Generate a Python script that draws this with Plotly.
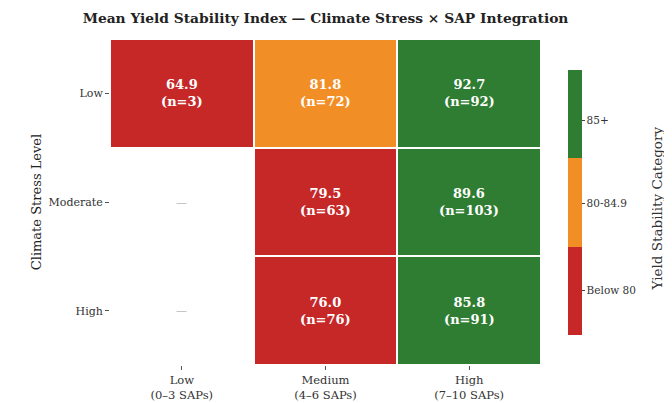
import plotly.graph_objects as go

stress_levels = ["Low", "Moderate", "High"]
sap_levels = ["Low<br>(0–3 SAPs)", "Medium<br>(4–6 SAPs)", "High<br>(7–10 SAPs)"]
mean_ysi = [
    [64.9, 81.8, 92.7],
    [None, 79.5, 89.6],
    [None, 76.0, 85.8],
]
counts = [
    [3, 72, 92],
    [None, 63, 103],
    [None, 76, 91],
]
cat_labels = ["Below 80", "80-84.9", "85+"]
cat_tick_positions = [0, 0.98, 1.92]
cat_colors = ["#c62828", "#f28e26", "#2e7d32"]


def category(v):
    if v is None:
        return None
    if v < 80:
        return 0
    if v < 85:
        return 1
    return 2


z = [[category(v) for v in row] for row in mean_ysi]
text = []
for row_m, row_n in zip(mean_ysi, counts):
    text.append([
        "—" if m is None else f"<b>{m:.1f}<br>(n={n})</b>"
        for m, n in zip(row_m, row_n)
    ])

colorscale = [
    [0.0, cat_colors[0]], [1/3, cat_colors[0]],
    [1/3, cat_colors[1]], [2/3, cat_colors[1]],
    [2/3, cat_colors[2]], [1.0, cat_colors[2]],
]

fig = go.Figure()
fig.add_trace(go.Heatmap(
    z=z, x=sap_levels, y=stress_levels,
    colorscale=colorscale, zmin=-0.5, zmax=2.5,
    xgap=2, ygap=2,
    hoverinfo="skip",
    colorbar=dict(
        tickvals=cat_tick_positions, ticktext=cat_labels,
        ticks="outside", ticklen=3, tickcolor="#444",
        thickness=14, lenmode="pixels", len=285,
        x=1.039, xanchor="left", y=0.5, yanchor="middle",
        outlinewidth=0,
        tickfont=dict(family="DejaVu Serif", size=10.5, color="#333"),
    ),
))

for i, row in enumerate(text):
    for j, t in enumerate(row):
        is_missing = mean_ysi[i][j] is None
        fig.add_annotation(
            x=sap_levels[j], y=stress_levels[i], text=t, showarrow=False,
            font=dict(family="DejaVu Serif", size=13 if not is_missing else 11,
                      color="white" if not is_missing else "#999"),
        )

# colorbar title placed as rotated text to the right of the tick labels
fig.add_annotation(
    text="Yield Stability Category", xref="paper", yref="paper",
    x=1.269, y=0.48, xanchor="center", yanchor="middle", textangle=-90,
    showarrow=False, font=dict(family="DejaVu Serif", size=13.5, color="#333"),
)

fig.update_layout(
    width=664, height=395,
    margin=dict(l=102, r=131, t=31, b=38, autoexpand=False),
    paper_bgcolor="white", plot_bgcolor="white",
    title=dict(text="<b>Mean Yield Stability Index — Climate Stress × SAP Integration</b>",
               xref="paper", x=0.5, xanchor="center", y=0.975, yanchor="middle",
               font=dict(family="DejaVu Serif", size=13.8, color="#222")),
    font=dict(family="DejaVu Serif", size=11, color="#333"),
    xaxis=dict(showgrid=False, zeroline=False, ticks="outside", ticklen=4,
               tickcolor="#555", tickfont=dict(size=11.5, color="#333"), showline=False),
    yaxis=dict(showgrid=False, zeroline=False, ticks="outside", ticklen=4,
               tickcolor="#555", autorange="reversed",
               tickfont=dict(size=11, color="#333"), showline=False,
               title=dict(text="Climate Stress Level", standoff=4,
                          font=dict(size=13, color="#222"))),
)

fig.write_html("out.html")
